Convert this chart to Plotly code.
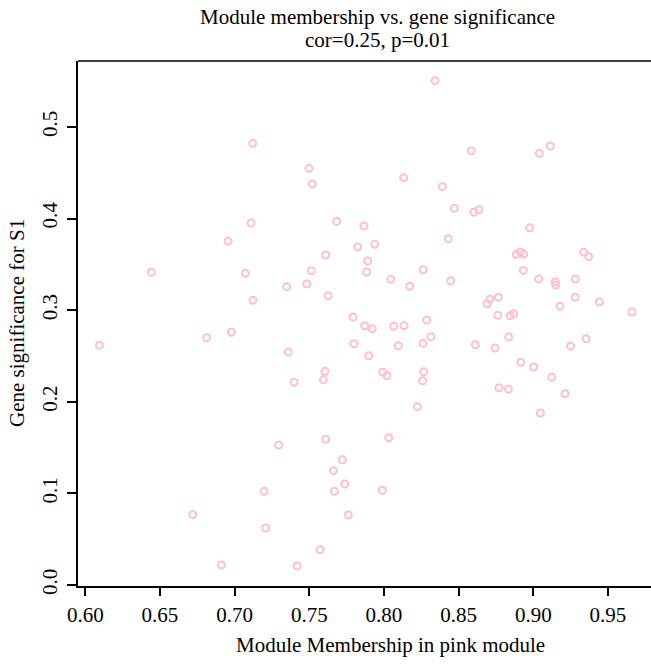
import plotly.graph_objects as go

# Module membership (x) and gene significance (y)
mm = [0.7121, 0.7498, 0.7520, 0.7110, 0.7683, 0.6956, 0.7824, 0.7610, 0.6442, 0.7071,
      0.7514, 0.7483, 0.7349, 0.7627, 0.7123, 0.7793, 0.6978,
      0.8342, 0.8585, 0.9040, 0.9114, 0.8132, 0.8391, 0.8471, 0.8601, 0.8636, 0.7866,
      0.8976, 0.7938, 0.8431, 0.8886, 0.8913, 0.8936, 0.9338, 0.9371, 0.7891, 0.7884,
      0.8933, 0.8262, 0.8045, 0.8447, 0.9036, 0.9147, 0.9150, 0.9281, 0.8172, 0.8708,
      0.8690, 0.8766, 0.9281, 0.9442, 0.9179, 0.9661, 0.8762, 0.8844, 0.8869, 0.8286,
      0.7871, 0.7922, 0.8065, 0.8134,
      0.6094, 0.6813, 0.7359, 0.7605, 0.7594, 0.7398, 0.7799, 0.7610, 0.7295, 0.7721,
      0.7661, 0.7737, 0.7197, 0.7668, 0.7761, 0.6719, 0.7208, 0.7572, 0.6911, 0.7418,
      0.8096, 0.8261, 0.8315, 0.7898, 0.7992, 0.8020, 0.8266, 0.8259, 0.8223, 0.8032,
      0.7989, 0.8612, 0.8744, 0.8835, 0.9250, 0.9353, 0.8916, 0.9003, 0.9123, 0.8770,
      0.8833, 0.9212, 0.9047]
gs = [0.4822, 0.4549, 0.4378, 0.3952, 0.3970, 0.3755, 0.3690, 0.3603, 0.3414, 0.3403,
      0.3431, 0.3286, 0.3257, 0.3159, 0.3108, 0.2926, 0.2759,
      0.5506, 0.4741, 0.4713, 0.4793, 0.4447, 0.4349, 0.4112, 0.4069, 0.4097, 0.3919,
      0.3901, 0.3719, 0.3781, 0.3610, 0.3635, 0.3613, 0.3632, 0.3584, 0.3537, 0.3417,
      0.3435, 0.3442, 0.3337, 0.3322, 0.3341, 0.3311, 0.3275, 0.3341, 0.3261, 0.3119,
      0.3071, 0.3141, 0.3141, 0.3090, 0.3042, 0.2980, 0.2944, 0.2940, 0.2962, 0.2893,
      0.2831, 0.2798, 0.2824, 0.2831,
      0.2617, 0.2700, 0.2544, 0.2333, 0.2241, 0.2213, 0.2634, 0.1591, 0.1528, 0.1368,
      0.1248, 0.1103, 0.1023, 0.1023, 0.0764, 0.0768, 0.0622, 0.0386, 0.0218, 0.0207,
      0.2612, 0.2638, 0.2711, 0.2503, 0.2322, 0.2285, 0.2329, 0.2230, 0.1947, 0.1608,
      0.1034, 0.2623, 0.2587, 0.2707, 0.2609, 0.2689, 0.2431, 0.2380, 0.2267, 0.2154,
      0.2136, 0.2088, 0.1878]

x_ticks = [0.60, 0.65, 0.70, 0.75, 0.80, 0.85, 0.90, 0.95]
x_ticktext = ["0.60", "0.65", "0.70", "0.75", "0.80", "0.85", "0.90", "0.95"]
y_ticks = [0.0, 0.1, 0.2, 0.3, 0.4, 0.5]
y_ticktext = ["0.0", "0.1", "0.2", "0.3", "0.4", "0.5"]

title_line1 = "Module membership vs. gene significance"
title_line2 = "cor=0.25, p=0.01"
x_label = "Module Membership in pink module"
y_label = "Gene significance for S1"

FONT = "Liberation Serif, Times New Roman, serif"
FS = 21

fig = go.Figure()
fig.add_trace(go.Scatter(
    x=mm, y=gs, mode="markers",
    marker=dict(symbol="circle-open", size=7, color="#FFC0CB",
                line=dict(width=2, color="#FFC0CB")),
    hoverinfo="x+y", showlegend=False,
))

W, H = 651, 664
L, R, T, B = 78, 0, 61, 78
pw, ph = W - L - R, H - T - B

def px_x(p):
    return (p - L) / pw

def px_y(p):
    return (H - B - p) / ph

fig.update_layout(
    width=W, height=H,
    margin=dict(l=L, r=R, t=T, b=B, pad=0),
    paper_bgcolor="white", plot_bgcolor="white",
    font=dict(family=FONT, size=FS, color="black"),
    xaxis=dict(
        range=[0.5951, 0.97882], tickvals=x_ticks, ticktext=x_ticktext,
        showgrid=False, zeroline=False, showline=True, linecolor="black", linewidth=1.5,
        ticks="outside", ticklen=8, tickwidth=1.5, tickcolor="black",
        tickfont=dict(family=FONT, size=FS, color="black"), ticklabelstandoff=1,
    ),
    yaxis=dict(
        range=[-0.0011, 0.5721], tickvals=y_ticks, ticktext=y_ticktext,
        showgrid=False, zeroline=False, showline=True, linecolor="black", linewidth=1.5,
        ticks="outside", ticklen=9, tickwidth=1.5, tickcolor="black", tickangle=-90,
        tickfont=dict(family=FONT, size=FS, color="black"), ticklabelstandoff=2,
    ),
    shapes=[dict(type="line", xref="paper", yref="paper", x0=0, x1=1, y0=1, y1=1,
                 line=dict(color="black", width=1.5))],
    annotations=[
        dict(text=title_line1, xref="paper", yref="paper", x=px_x(377), y=px_y(17),
             xanchor="center", yanchor="middle", showarrow=False,
             font=dict(family=FONT, size=FS, color="black")),
        dict(text=title_line2, xref="paper", yref="paper", x=px_x(377), y=px_y(40),
             xanchor="center", yanchor="middle", showarrow=False,
             font=dict(family=FONT, size=FS, color="black")),
        dict(text=x_label, xref="paper", yref="paper", x=px_x(390), y=px_y(645),
             xanchor="center", yanchor="middle", showarrow=False,
             font=dict(family=FONT, size=FS, color="black")),
        dict(text=y_label, xref="paper", yref="paper", x=px_x(17), y=px_y(323),
             xanchor="center", yanchor="middle", showarrow=False, textangle=-90,
             font=dict(family=FONT, size=FS, color="black")),
    ],
)

fig.write_html("out.html")
